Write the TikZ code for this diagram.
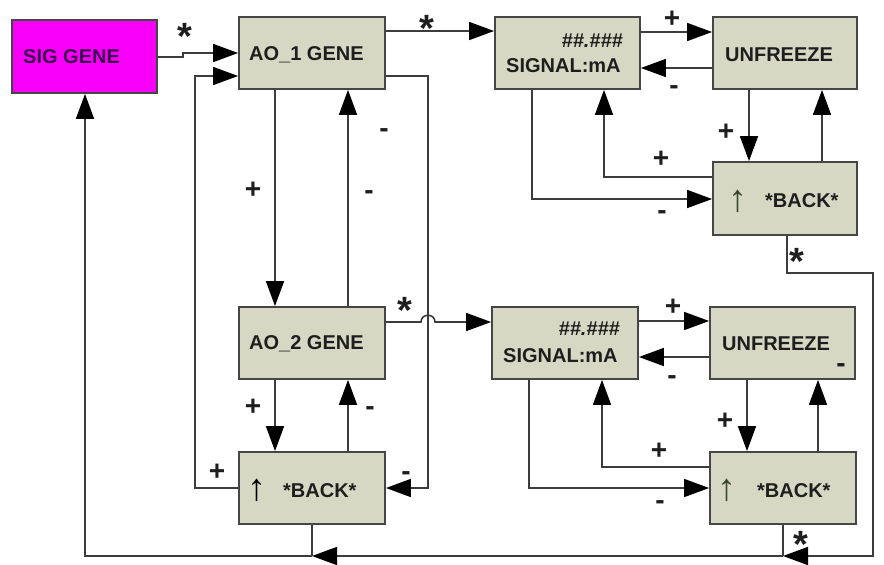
\documentclass[tikz,border=0pt]{standalone}
\usepackage{fontspec}
\setmainfont{Liberation Sans}
\usetikzlibrary{arrows.meta}
\definecolor{boxfill}{RGB}{214,216,196}
\definecolor{boxline}{RGB}{70,70,70}
\definecolor{linec}{RGB}{60,60,60}
\definecolor{textc}{RGB}{30,30,30}
\definecolor{magentabox}{RGB}{248,0,248}
\definecolor{sigtext}{RGB}{60,0,80}
\definecolor{uparrowc}{RGB}{55,70,45}
\tikzset{
  box/.style={draw=boxline, fill=boxfill, line width=1.8pt, inner sep=0pt},
  txt/.style={font=\bfseries\fontsize{20}{22}\selectfont, text=textc, inner sep=0pt, anchor=base west},
  conn/.style={draw=linec, line width=1.6pt},
  arr/.style={conn, -{Triangle[length=25pt,width=18pt,color=black,fill=black]}},
  plus/.style={font=\bfseries\fontsize{28}{30}\selectfont, text=textc, inner sep=0pt},
  minus/.style={font=\bfseries\fontsize{28}{30}\selectfont, text=textc, inner sep=0pt, anchor=north},
  star/.style={font=\bfseries\fontsize{38}{38}\selectfont, text=textc, inner sep=0pt, anchor=north},
  uparrow/.style={font=\fontsize{38}{38}\selectfont, inner sep=0pt}
}
\begin{document}
\begin{tikzpicture}[x=1pt,y=-1pt]
\useasboundingbox[fill=white] (0,0) rectangle (884,565);
% boxes
\node[box, fill=magentabox, minimum width=145pt, minimum height=73pt] (sig) at (84.5,56.5) {};
\node[box, minimum width=146pt, minimum height=72pt] (ao1) at (312,53) {};
\node[box, minimum width=145pt, minimum height=72pt] (sig1) at (567.5,53) {};
\node[box, minimum width=144pt, minimum height=72pt] (unf1) at (785,53) {};
\node[box, minimum width=144pt, minimum height=73pt] (back1) at (785,198.5) {};
\node[box, minimum width=146pt, minimum height=72pt] (ao2) at (312,343) {};
\node[box, minimum width=146pt, minimum height=72pt] (back2) at (312,488) {};
\node[box, minimum width=146pt, minimum height=72pt] (sig2) at (565,343) {};
\node[box, minimum width=145pt, minimum height=72pt] (unf2) at (782.5,343) {};
\node[box, minimum width=146pt, minimum height=72pt] (back3) at (783,488) {};
% texts
\node[txt, text=sigtext] (sigT) at (23,63) {SIG GENE};
\node[txt] (ao1T) at (249,60) {AO\_1 GENE};
\node[txt, anchor=base east, font=\bfseries\itshape\fontsize{20}{22}\selectfont] (sig1a) at (623,47) {\#\#.\#\#\#};
\node[txt] (sig1b) at (506,72) {SIGNAL:mA};
\node[txt] (unf1T) at (725,61) {UNFREEZE};
\node[uparrow, text=uparrowc] (ar1) at (738,201) {↑};
\node[txt] (back1T) at (765,207) {*BACK*};
\node[txt] (ao2T) at (249,349) {AO\_2 GENE};
\node[uparrow, text=black] (ar2) at (257,490) {↑};
\node[txt] (back2T) at (283,497) {*BACK*};
\node[txt, anchor=base east, font=\bfseries\itshape\fontsize{20}{22}\selectfont] (sig2a) at (620,335) {\#\#.\#\#\#};
\node[txt] (sig2b) at (503,362) {SIGNAL:mA};
\node[txt] (unf2T) at (722,350) {UNFREEZE};
\node[uparrow, text=uparrowc] (ar3) at (727,490) {↑};
\node[txt] (back3T) at (757,497) {*BACK*};
% junction coordinates
\coordinate (j1) at (783,556);
\coordinate (j2) at (312,556);
% connectors
\draw[arr] (sig.east |- 0,57) -- (183,57) -- (183,53) -- (ao1.west |- 0,53);
\draw[arr] (back2.west) -- (195,488) -- (195,76) -- (ao1.west |- 0,76);
\draw[arr] (ao1.south -| 275,0) -- (ao2.north -| 275,0);
\draw[arr] (ao2.north -| 348,0) -- (ao1.south -| 348,0);
\draw[arr] (ao1.east |- 0,76) -- (428,76) -- (428,488) -- (back2.east |- 0,488);
\draw[arr] (ao1.east |- 0,31) -- (sig1.west |- 0,31);
\draw[arr] (sig1.east |- 0,32) -- (unf1.west |- 0,32);
\draw[arr] (unf1.west |- 0,68) -- (sig1.east |- 0,68);
\draw[arr] (unf1.south -| 749,0) -- (back1.north -| 749,0);
\draw[arr] (back1.north -| 822,0) -- (unf1.south -| 822,0);
\draw[arr] (back1.west |- 0,177) -- (604,177) -- (sig1.south -| 604,0);
\draw[arr] (sig1.south -| 532,0) -- (532,199) -- (back1.west |- 0,199);
\draw[arr] (back1.south -| 787,0) |- (873,273) |- (j1);
\draw[conn] (back3.south -| 783,0) -- (j1);
\draw[arr] (j1) -- (j2);
\draw[conn] (back2.south -| 312,0) -- (j2);
\draw[arr] (j2) -| (sig.south -| 85,0);
\draw[arr] (ao2.south -| 275,0) -- (back2.north -| 275,0);
\draw[arr] (back2.north -| 348,0) -- (ao2.south -| 348,0);
\draw[arr] (ao2.east |- 0,322) -- (421,322) .. controls (421,313) and (435,313) .. (435,322) -- (sig2.west |- 0,322);
\draw[arr] (sig2.east |- 0,321) -- (unf2.west |- 0,321);
\draw[arr] (unf2.west |- 0,357) -- (sig2.east |- 0,357);
\draw[arr] (unf2.south -| 747,0) -- (back3.north -| 747,0);
\draw[arr] (back3.north -| 818,0) -- (unf2.south -| 818,0);
\draw[arr] (back3.west |- 0,467) -- (602,467) -- (sig2.south -| 602,0);
\draw[arr] (sig2.south -| 529,0) -- (529,488) -- (back3.west |- 0,488);
% labels
\node[star] (s1) at (185,23) {*};
\node[star] (s2) at (427,15) {*};
\node[star] (s3) at (797,248) {*};
\node[star] (s4) at (405,297) {*};
\node[star] (s5) at (801,531) {*};
\node[plus] (p1) at (253,190) {+};
\node[plus] (p2) at (672,19) {+};
\node[plus] (p3) at (726,132) {+};
\node[plus] (p4) at (661,159) {+};
\node[plus] (p5) at (253,407) {+};
\node[plus] (p6) at (217,472) {+};
\node[plus] (p7) at (673,307) {+};
\node[plus] (p8) at (725,421) {+};
\node[plus] (p9) at (659,451) {+};
\node[minus] (m1) at (384,128) {-};
\node[minus] (m2) at (369,190) {-};
\node[minus] (m3) at (674,85) {-};
\node[minus] (m4) at (662,210) {-};
\node[minus] (m5) at (370,406) {-};
\node[minus] (m6) at (406,471) {-};
\node[minus] (m7) at (672,375) {-};
\node[minus] (m8) at (841,363) {-};
\node[minus] (m9) at (660,500) {-};
\end{tikzpicture}
\end{document}
